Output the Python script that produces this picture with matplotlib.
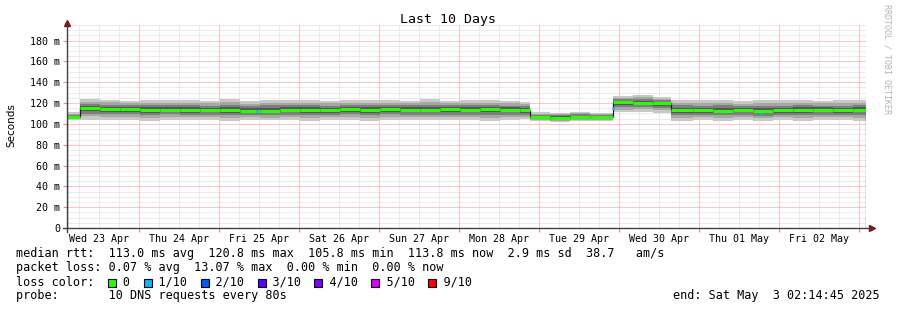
import matplotlib
matplotlib.use('Agg')
import matplotlib.pyplot as plt
import matplotlib.dates as mdates
from matplotlib.patches import Rectangle
from datetime import datetime, timedelta
import numpy as np

plt.rcParams['font.family'] = ['DejaVu Sans Mono']

## data (hours since start, values in ms)
start = datetime(2025, 4, 23, 2, 14, 45)
end = datetime(2025, 5, 3, 2, 14, 45)

edges_h = [0, 4, 10, 16, 22, 28, 34, 40, 46, 52, 58, 64, 70, 76, 82, 88, 94, 100,
           106, 112, 118, 124, 130, 136, 139, 145, 151, 157, 164, 170, 176, 181.5,
           188, 194, 200, 206, 212, 218, 224, 230, 236, 240]
median_ms = [107.0,
             115.2, 114.4, 114.0, 113.6, 113.8, 113.4, 113.5, 113.2, 112.6, 112.8, 113.4,
             113.7, 113.5, 113.9, 113.6, 114.1, 113.8, 113.5, 113.9, 113.4, 114.0, 113.6, 113.2,
             106.4, 106.0, 106.8, 106.2,
             120.6, 120.2, 119.6,
             113.0, 113.2, 112.8, 113.4, 112.6, 113.0, 113.3, 113.6, 113.2, 113.8]
smoke_hi = [111.0,
            123.5, 123, 122, 123, 122.5, 123, 122, 123.5, 122, 123, 122.5,
            123, 122, 123, 122.5, 123, 122, 123.5, 122, 123, 122.5, 122, 121.5,
            111, 110.5, 111.5, 110.5,
            127, 127.5, 126,
            123, 122.5, 123, 122, 123, 122.5, 123, 122, 122.5, 123]
smoke_lo = [104.0,
            104, 103.5, 104, 103, 104, 103.5, 104, 103, 104, 103.5, 104,
            103, 103.5, 104, 103, 104, 103.5, 104, 103.5, 104, 103, 104, 104.5,
            102.5, 102, 103, 102.5,
            111, 111.5, 110.5,
            103, 103.5, 103, 104, 103, 103.5, 103, 104, 103.5, 103]

# short stretches with 1/10 loss
loss_h = [57, 164.1, 208.5]
loss_ms = [112.0, 115.0, 109.5]

loss_labels = ['0', '1/10', '2/10', '3/10', '4/10', '5/10', '9/10']
loss_colors = ['#26ff00', '#00b8ff', '#0059ff', '#5e00ff', '#7e00ff', '#dd00ff', '#ff0000']

smoke_levels = [1.0, 0.72, 0.48, 0.26]
smoke_greys = ['#c8c8c8', '#a6a6a6', '#7e7e7e', '#565656']

W, H = 897, 310
fig = plt.figure(figsize=(W / 100, H / 100), dpi=100)
ax = fig.add_axes([67 / W, (H - 228) / H, (866 - 67) / W, (228 - 25) / H])

def to_num(hours):
    return mdates.date2num([start + timedelta(hours=h) for h in hours])

xe = to_num(edges_h)
med = np.array(median_ms)
hi = np.array(smoke_hi)
lo = np.array(smoke_lo)

## smoke
for f, c in zip(smoke_levels, smoke_greys):
    ax.stairs(med + f * (hi - med), xe, baseline=med - f * (med - lo),
              fill=True, color=c, lw=0, zorder=2)

## grid (under the smoke)
major_col, minor_col = '#ff8c8c', '#d8d8d8'
dots = dict(lw=0.72, ls=(0, (1, 1)), zorder=1)
x0, x1 = mdates.date2num(start), mdates.date2num(end)
ax.set_xlim(x0, x1)
ax.set_ylim(0, 195)
ys = np.arange(5, 196, 5)
ax.hlines(ys[ys % 20 != 0], x0, x1, color=minor_col, **dots)
ax.hlines(ys[ys % 20 == 0], x0, x1, color=major_col, **dots)
day0 = datetime(2025, 4, 23)
six = [day0 + timedelta(hours=6 * k) for k in range(41)]
six_minor = [mdates.date2num(t) for k, t in enumerate(six) if start < t < end and k % 4]
six_major = [mdates.date2num(t) for k, t in enumerate(six) if start < t < end and k % 4 == 0]
ax.vlines(six_minor, 0, 195, color=minor_col, **dots)
ax.vlines(six_major, 0, 195, color=major_col, **dots)

## median line
ax.stairs(med, xe, color='#202020', lw=0.9, zorder=3)
ax.hlines(med, xe[:-1], xe[1:], color=loss_colors[0], lw=2.2, zorder=4)
lx = to_num(loss_h)
ax.hlines(loss_ms, lx - 0.012, lx + 0.012, color=loss_colors[1], lw=2.2, zorder=5)

## axes
for s in ax.spines.values():
    s.set_visible(False)
ax.plot([0, 0], [-0.02, 1.0], transform=ax.transAxes, color='#404040', lw=1, clip_on=False, zorder=6)
ax.plot([-0.005, 1.004], [0, 0], transform=ax.transAxes, color='#404040', lw=1, clip_on=False, zorder=6)
ax.plot([0], [1.01], marker='^', ms=4, color='#801818', transform=ax.transAxes, clip_on=False)
ax.plot([1.007], [0], marker='>', ms=4, color='#801818', transform=ax.transAxes, clip_on=False)

ax.set_yticks(range(0, 181, 20))
ax.yaxis.set_major_formatter(plt.FuncFormatter(lambda v, p: '0' if v == 0 else '%d m' % v))
ax.tick_params(axis='y', length=3, color='#ff8080', pad=2, labelsize=7.2)

ax.set_xticks(six_major)
ax.xaxis.set_major_formatter(plt.NullFormatter())
ax.xaxis.set_minor_locator(mdates.HourLocator(byhour=[12]))
ax.xaxis.set_minor_formatter(mdates.DateFormatter('%a %d %b'))
ax.tick_params(axis='x', which='major', length=3, color='#ff8080')
ax.tick_params(axis='x', which='minor', length=0, pad=4, labelsize=7.2)

## texts
fig.text(448 / W, 1 - 19 / H, 'Last 10 Days', ha='center', va='center', fontsize=9.5)
fig.text(11 / W, 1 - 125 / H, 'Seconds', rotation=90, ha='center', va='center',
         fontsize=7.5, family='DejaVu Sans')
fig.text(887 / W, 1 - 4 / H, 'RRDTOOL / TOBI OETIKER', rotation=270, ha='center', va='top',
         fontsize=6, color='#b4b4b4')

fs = 8.5
cw = 0.602 * fs / 72 * 100
lines = ['median rtt:  113.0 ms avg  120.8 ms max  105.8 ms min  113.8 ms now  2.9 ms sd  38.7   am/s',
         'packet loss: 0.07 % avg  13.07 % max  0.00 % min  0.00 % now']
loss_line = 'loss color:  '
cols = []
for lab in loss_labels:
    cols.append(len(loss_line))
    loss_line += '  ' + lab + '  '
lines.append(loss_line)
lines.append('probe:       10 DNS requests every 80s')
row_y = [254, 268, 282, 296]
for txt, y in zip(lines, row_y):
    fig.text(16 / W, 1 - y / H, txt, ha='left', va='center', fontsize=fs)
for c, colr in zip(cols, loss_colors):
    fig.patches.append(Rectangle(((16 + c * cw) / W, 1 - 287 / H), 8 / W, 8 / H,
                                 transform=fig.transFigure, facecolor=colr,
                                 edgecolor='black', lw=0.8))
fig.text(880 / W, 1 - 296 / H, 'end: Sat May  3 02:14:45 2025', ha='right', va='center', fontsize=fs)

fig.savefig('out.png', dpi=100)
